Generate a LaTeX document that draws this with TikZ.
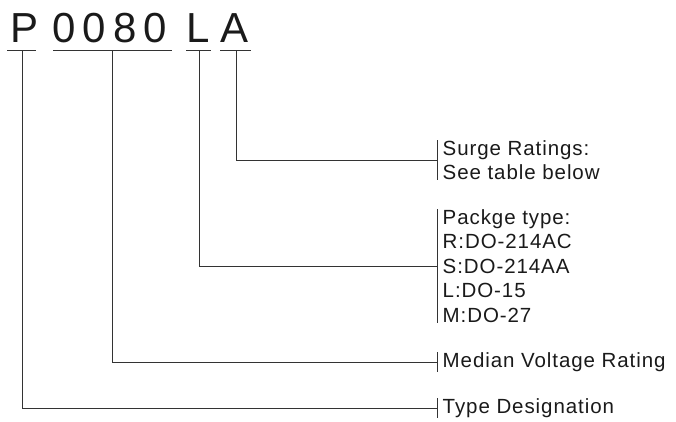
\documentclass[tikz,border=0pt]{standalone}
\usepackage{fontspec}
\setmainfont{Liberation Sans}
\usepackage{xcolor}
\usepackage{tikz}
\definecolor{ink}{HTML}{1A1A1A}
\definecolor{rule}{HTML}{333333}

\begin{document}
\begin{tikzpicture}[x=1pt,y=-1pt,
  letter/.style={anchor=base,inner sep=0,text=ink,font=\fontsize{42}{42}\selectfont},
  lbl/.style={anchor=west,align=left,inner xsep=5.5pt,inner ysep=0,text=ink,
    font=\fontsize{20.5}{24.5}\selectfont\addfontfeature{LetterSpace=4.5}},
  wire/.style={rule,line width=0.8pt}]
  \useasboundingbox (0,0) rectangle (676,421);
  \node[letter] (p)  at (24.6,42) {P};
  \node[letter] (d1) at (64,42) {0};
  \node[letter] (d2) at (94,42) {0};
  \node[letter] (d3) at (125,42) {8};
  \node[letter] (d4) at (155,42) {0};
  \node[letter] (l)  at (198.5,42) {L};
  \node[letter] (a)  at (235,42) {A};
  \coordinate (pstem) at (22.7,50);
  \coordinate (vstem) at (112,50);
  \coordinate (lstem) at (199,50);
  \coordinate (astem) at (236,50);
  \draw[wire] (7,50) -- (36,50);
  \draw[wire] (53,50) -- (172,50);
  \draw[wire] (186,50) -- (211,50);
  \draw[wire] (220,50) -- (251,50);
  \node[lbl] (surge) at (437,160) {Surge Ratings:\\See table below};
  \node[lbl] (pack) at (437,266) {Packge type:\\R:DO-214AC\\S:DO-214AA\\L:DO-15\\M:DO-27};
  \node[lbl] (volt) at (437,362) {Median Voltage Rating};
  \node[lbl] (type) at (437,408) {Type Designation};
  \foreach \n in {surge,pack,volt,type}
    \draw[wire] (\n.north west) -- (\n.south west);
  \draw[wire] (astem) |- (surge.west);
  \draw[wire] (lstem) |- (pack.west);
  \draw[wire] (vstem) |- (volt.west);
  \draw[wire] (pstem) |- (type.west);
\end{tikzpicture}
\end{document}
